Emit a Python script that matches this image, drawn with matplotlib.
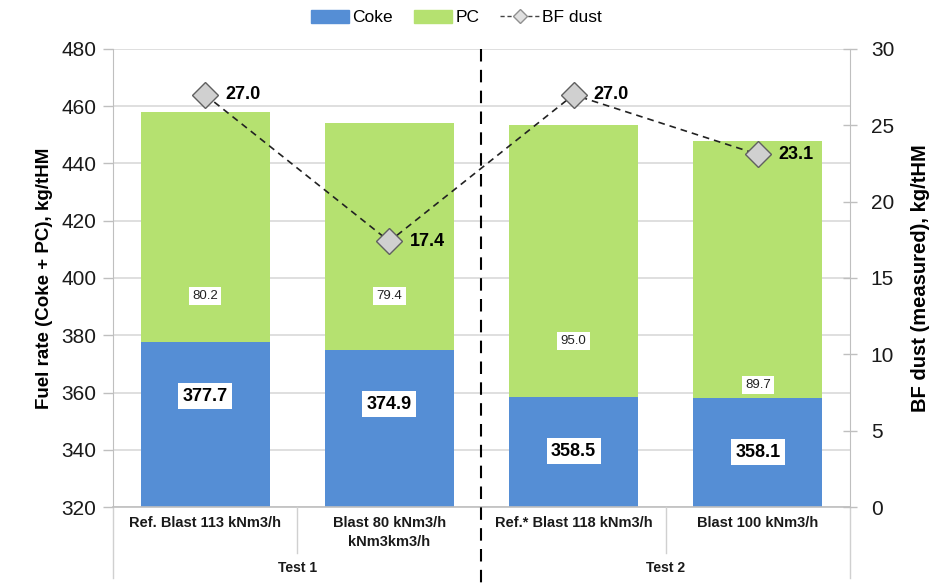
import matplotlib.pyplot as plt
from matplotlib.lines import Line2D
from matplotlib.patches import Patch
import matplotlib.transforms as mtransforms

plt.rcParams['font.family'] = ['Liberation Sans', 'DejaVu Sans']

categories = ['Ref. Blast 113 kNm3/h', 'Blast 80 kNm3/h\nkNm3km3/h',
              'Ref.* Blast 118 kNm3/h', 'Blast 100 kNm3/h']
groups = ['Test 1', 'Test 2']
coke = [377.7, 374.9, 358.5, 358.1]
pc = [80.2, 79.4, 95.0, 89.7]
dust = [27.0, 17.4, 27.0, 23.1]

# label placement offsets above the coke top (layout only)
pc_label_off = [16, 18.8, 19.5, 4.5]

blue = '#558ED5'
green = '#B5E170'
grid_c = '#D9D9D9'

fig = plt.figure(figsize=(9.37, 5.86), dpi=100)
ax = fig.add_axes([0.1206, 0.1348, 0.7865, 0.7816])
ax2 = ax.twinx()

x = list(range(len(categories)))
base = 320
ax.bar(x, [c - base for c in coke], bottom=base, width=0.70, color=blue, zorder=2)
ax.bar(x, pc, bottom=coke, width=0.70, color=green, zorder=2)

ax.set_xlim(-0.5, len(categories) - 0.5)
ax.set_ylim(320, 480)
ax.set_yticks(range(320, 481, 20))
ax.yaxis.grid(True, color=grid_c, lw=1.2, zorder=0)
ax.set_axisbelow(True)
ax.set_xticks([])

for i in x:
    ax.text(i, coke[i] - 19, f'{coke[i]:.1f}', ha='center', va='center',
            fontsize=13, fontweight='bold', zorder=5,
            bbox=dict(boxstyle='square,pad=0.25', fc='white', ec='none'))
    ax.text(i, coke[i] + pc_label_off[i], f'{pc[i]:.1f}', ha='center', va='center',
            fontsize=9.5, color='#222222', zorder=5,
            bbox=dict(boxstyle='square,pad=0.25', fc='white', ec='none'))

ax2.plot(x, dust, ls=(0, (4, 3)), color='#222222', lw=1.2, marker='D',
         markersize=13, markerfacecolor='#D0D0D0', markeredgecolor='#606060',
         markeredgewidth=1.0, zorder=4)
for i in x:
    ax2.text(i + 0.11, dust[i], f'{dust[i]:.1f}', ha='left', va='center',
             fontsize=13, fontweight='bold')
ax2.set_ylim(0, 30)
ax2.set_yticks(range(0, 31, 5))

for a in (ax, ax2):
    for s in ('top', 'bottom'):
        a.spines[s].set_visible(False)
    for s in ('left', 'right'):
        a.spines[s].set_color('#BFBFBF')
    a.tick_params(axis='y', colors='#BFBFBF', labelcolor='#1a1a1a',
                  labelsize=15, length=7, width=1)
ax.spines['right'].set_visible(False)
ax2.spines['left'].set_visible(False)
ax.tick_params(axis='y', pad=5)
ax2.tick_params(axis='y', direction='inout', length=10, pad=10)

ax.set_ylabel('Fuel rate (Coke + PC), kg/tHM', fontsize=13.5, fontweight='bold', labelpad=6)
ax2.set_ylabel('BF dust (measured), kg/tHM', fontsize=14.5, fontweight='bold', labelpad=12)

# category axis below the plot
trans = mtransforms.blended_transform_factory(ax.transData, ax.transAxes)
ax.add_line(Line2D([-0.5, 3.5], [0, 0], transform=trans, color='#BFBFBF', lw=1.2, clip_on=False))
for xs, y0 in ((-0.5, -0.155), (0.5, -0.10), (2.5, -0.10), (3.5, -0.155)):
    ax.add_line(Line2D([xs, xs], [0, y0], transform=trans, color='#D0D0D0', lw=1, clip_on=False))
for i, lab in enumerate(categories):
    ax.text(i, -0.02, lab, transform=trans, ha='center', va='top',
            fontsize=10.5, fontweight='bold', color='#1a1a1a', linespacing=1.4)
for g, lab in enumerate(groups):
    ax.text(0.5 + 2 * g, -0.133, lab, transform=trans, ha='center', va='center',
            fontsize=10, fontweight='bold', color='#1a1a1a')

# test divider
ax.add_line(Line2D([1.5, 1.5], [1.0, -0.17], transform=trans, color='black', lw=1.5,
                   ls=(0, (6, 4)), clip_on=False, zorder=6))

handles = [Patch(color=blue, label='Coke'), Patch(color=green, label='PC'),
           Line2D([], [], ls=(0, (3, 2)), color='#444444', lw=1, marker='D', markersize=7,
                  markerfacecolor='#E0E0E0', markeredgecolor='#909090', label='BF dust')]
fig.legend(handles=handles, loc='center', bbox_to_anchor=(0.487, 0.970), ncol=3,
           frameon=False, fontsize=12.5, handlelength=2.2, handleheight=0.8,
           handletextpad=0.2, columnspacing=1.2)

fig.savefig('out.png', dpi=100)
